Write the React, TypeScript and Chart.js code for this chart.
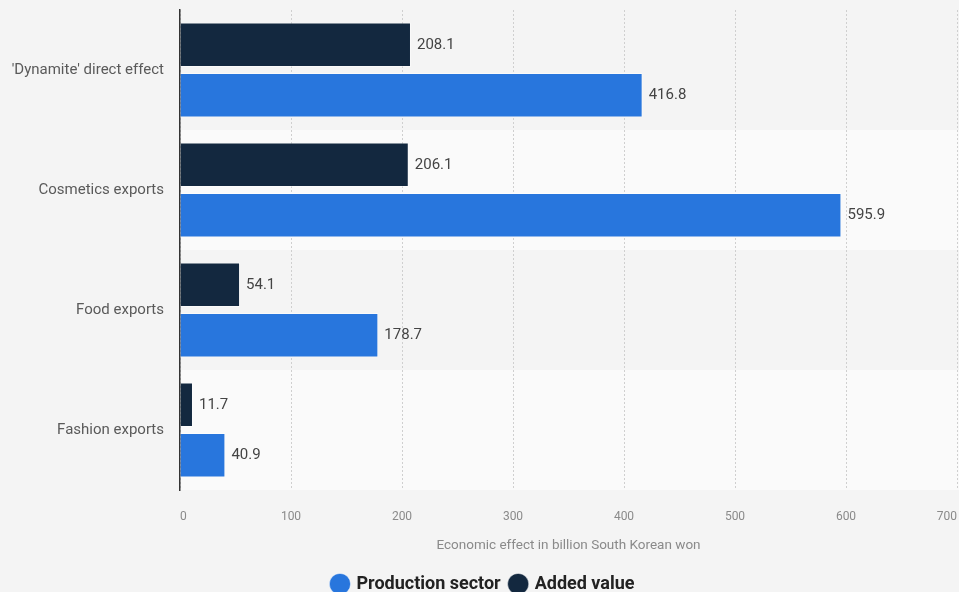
import React, { useEffect, useRef } from "react";
import { Chart, registerables } from "chart.js";

Chart.register(...registerables);

const categories = ["'Dynamite' direct effect", "Cosmetics exports", "Food exports", "Fashion exports"];
const addedValue = [208.1, 206.1, 54.1, 11.7];
const productionSector = [416.8, 595.9, 178.7, 40.9];
const xTicks = [0, 100, 200, 300, 400, 500, 600, 700];

const bandPlugin = {
  id: "bands",
  beforeDraw(chart: any) {
    const { ctx, chartArea, scales } = chart;
    const y = scales.y;
    ctx.save();
    categories.forEach((_, i) => {
      const c = y.getPixelForValue(i);
      const half = (y.getPixelForValue(1) - y.getPixelForValue(0)) / 2;
      ctx.fillStyle = i % 2 === 0 ? "#f4f4f4" : "#fafafa";
      ctx.fillRect(chartArea.left, c - half, chartArea.right - chartArea.left + 2, half * 2);
    });
    ctx.restore();
  },
};

const labelPlugin = {
  id: "valueLabels",
  afterDatasetsDraw(chart: any) {
    const { ctx } = chart;
    ctx.save();
    ctx.font = "15px Roboto";
    ctx.fillStyle = "#444444";
    ctx.textAlign = "left";
    ctx.textBaseline = "middle";
    chart.data.datasets.forEach((ds: any, di: number) => {
      const meta = chart.getDatasetMeta(di);
      meta.data.forEach((bar: any, i: number) => {
        ctx.fillText(String(ds.data[i]), bar.x + 6, bar.y);
      });
    });
    ctx.restore();
  },
};

export default function App() {
  const ref = useRef<HTMLCanvasElement>(null);
  useEffect(() => {
    document.body.style.margin = "0";
    document.body.style.background = "#f4f4f4";
    const chart = new Chart(ref.current!, {
      type: "bar",
      data: {
        labels: categories,
        datasets: [
          {
            label: "Added value",
            data: addedValue,
            backgroundColor: "#13283f",
            borderColor: "rgba(255,255,255,0.5)",
            borderWidth: 1,
            categoryPercentage: 0.84,
            barPercentage: 0.88,
          },
          {
            label: "Production sector",
            data: productionSector,
            backgroundColor: "#2876dd",
            borderColor: "rgba(255,255,255,0.5)",
            borderWidth: 1,
            categoryPercentage: 0.84,
            barPercentage: 0.88,
          },
        ],
      },
      options: {
        indexAxis: "y",
        responsive: false,
        animation: false,
        layout: { padding: { top: 10, left: 10, right: 2, bottom: -11 } },
        scales: {
          x: {
            min: 0,
            max: 700,
            afterBuildTicks: (s: any) => {
              s.ticks = xTicks.map((v) => ({ value: v }));
            },
            afterFit: (s: any) => {
              s.paddingLeft = 0;
              s.paddingRight = 0;
              s.height = 75;
            },
            border: { display: false, dash: [2, 2] },
            grid: { color: "#cfcfcf", drawTicks: false },
            ticks: { color: "#8a8a8a", font: { family: "Roboto", size: 12 }, padding: 20, align: "inner" },
            title: {
              display: true,
              text: "Economic effect in billion South Korean won",
              color: "#8a8a8a",
              font: { family: "Roboto", size: 13.5 },
              padding: { top: 7, bottom: 11 },
            },
          },
          y: {
            afterFit: (s: any) => {
              s.width = 170;
              s.paddingTop = 0;
              s.paddingBottom = 0;
            },
            border: { display: true, color: "#333333", width: 1.5 },
            grid: { display: false, drawTicks: false },
            ticks: { color: "#5a5a5a", font: { family: "Roboto", size: 15 }, padding: 16 },
          },
        },
        plugins: {
          legend: {
            position: "bottom",
            reverse: true,
            labels: {
              usePointStyle: true,
              pointStyle: "circle",
              boxHeight: 15,
              boxWidth: 15,
              color: "#222222",
              font: { family: "Roboto", size: 18, weight: "bold" },
              padding: 10,
            },
          },
          tooltip: { enabled: false },
        },
      },
      plugins: [bandPlugin, labelPlugin],
    } as any);
    return () => chart.destroy();
  }, []);
  return (
    <div style={{ width: 959, height: 592, background: "#f4f4f4" }}>
      <canvas ref={ref} width={959} height={592} />
    </div>
  );
}
